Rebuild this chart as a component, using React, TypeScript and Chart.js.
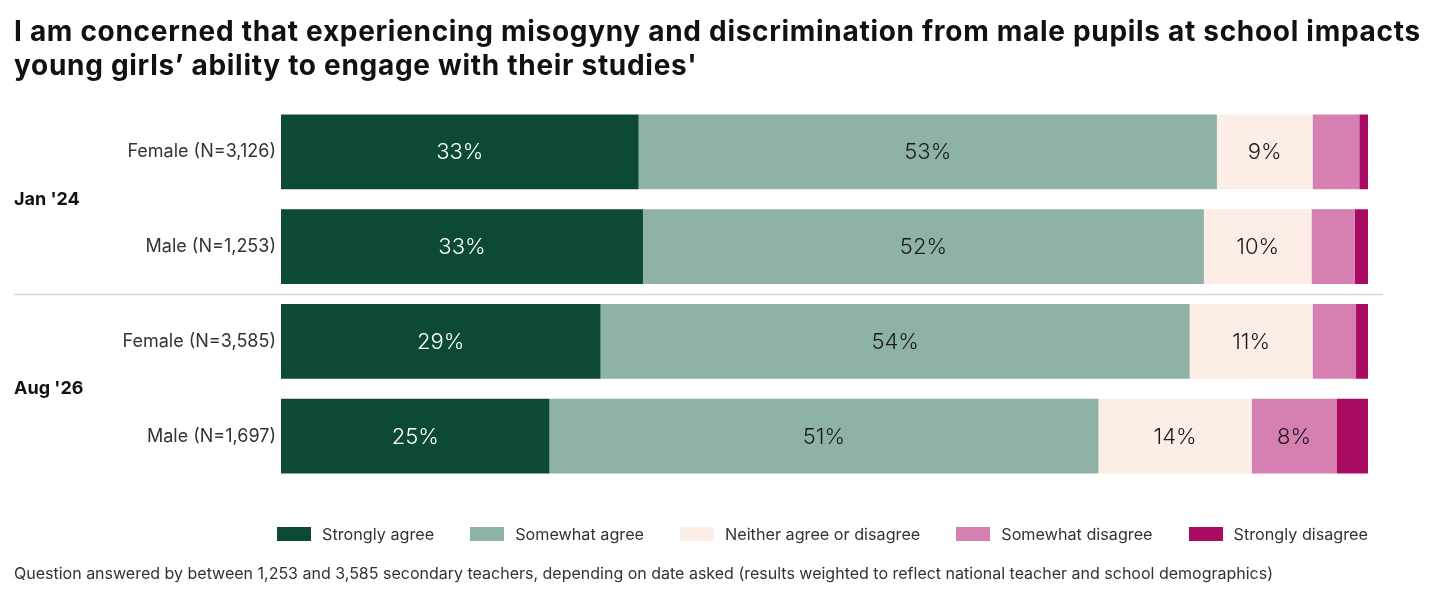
import { useEffect, useRef } from 'react';
import { Chart, registerables, type Plugin } from 'chart.js';

Chart.register(...registerables);

const categories = ['Female (N=3,126)', 'Male (N=1,253)', 'Female (N=3,585)', 'Male (N=1,697)'];
const groups = ["Jan '24", "Aug '26"];
const seriesNames = ['Strongly agree', 'Somewhat agree', 'Neither agree or disagree', 'Somewhat disagree', 'Strongly disagree'];
const stronglyAgree = [32.9, 33.3, 29.4, 24.7];
const somewhatAgree = [53.2, 51.6, 54.2, 50.5];
const neither = [8.8, 9.9, 11.3, 14.1];
const somewhatDisagree = [4.3, 4.0, 4.0, 7.8];
const stronglyDisagree = [0.8, 1.2, 1.1, 2.9];

const COLORS = ['#0c4a37', '#8fb2a6', '#fcede6', '#d580b0', '#a90a62'];
const FONT = 'Inter, "Noto Sans", sans-serif';

// segment labels, group labels and the divider between the two survey dates
const decorPlugin: Plugin<'bar'> = {
  id: 'decor',
  afterDatasetsDraw(chart) {
    const { ctx } = chart;
    const y = chart.scales.y;
    ctx.save();
    ctx.textAlign = 'center';
    ctx.textBaseline = 'middle';
    ctx.font = '300 22px ' + FONT;
    chart.data.datasets.forEach((ds, di) => {
      const meta = chart.getDatasetMeta(di);
      meta.data.forEach((bar, i) => {
        const v = ds.data[i] as number;
        if (v < 5) return;
        const { x, base } = bar.getProps(['x', 'base'], true) as { x: number; base: number };
        ctx.fillStyle = di === 0 ? '#ffffff' : '#1a1a1a';
        ctx.fillText(Math.round(v) + '%', (x + base) / 2, bar.y + 1);
      });
    });

    // divider
    const sy = Math.round(y.getPixelForValue(1.5)) + 0.5;
    ctx.strokeStyle = '#d6d6d6';
    ctx.lineWidth = 1.5;
    ctx.beginPath();
    ctx.moveTo(14, sy);
    ctx.lineTo(1383, sy);
    ctx.stroke();

    ctx.textAlign = 'left';
    ctx.fillStyle = '#111';
    ctx.font = '700 18px ' + FONT;
    groups.forEach((g, gi) => {
      ctx.fillText(g, 14, y.getPixelForValue(gi * 2 + 0.5));
    });
    ctx.restore();
  },
};

function BarChart() {
  const canvasRef = useRef<HTMLCanvasElement>(null);

  useEffect(() => {
    const canvas = canvasRef.current;
    if (!canvas) return;
    const values = [stronglyAgree, somewhatAgree, neither, somewhatDisagree, stronglyDisagree];
    const chart = new Chart(canvas, {
      type: 'bar',
      data: {
        labels: categories,
        datasets: values.map((d, i) => ({
          label: seriesNames[i],
          data: d,
          backgroundColor: COLORS[i],
          borderWidth: 0,
          barPercentage: 0.79,
          categoryPercentage: 1,
        })),
      },
      plugins: [decorPlugin],
      options: {
        indexAxis: 'y',
        responsive: false,
        animation: false,
        layout: { padding: { top: 104.5, bottom: 116.5, left: 0, right: 72 } },
        scales: {
          x: { stacked: true, min: 0, max: 100, display: false },
          y: {
            stacked: true,
            grid: { display: false, drawTicks: false },
            border: { display: false },
            afterFit: (s) => {
              s.width = 281;
            },
            ticks: { padding: 5, color: '#333', font: { family: FONT, size: 18 } },
          },
        },
        plugins: { legend: { display: false }, tooltip: { enabled: false } },
      },
    });
    return () => chart.destroy();
  }, []);

  return <canvas ref={canvasRef} width={1440} height={600} style={{ position: 'absolute', left: 0, top: 0, width: 1440, height: 600 }} />;
}

export default function App() {
  return (
    <div style={{ position: 'fixed', left: 0, top: 0, width: 1440, height: 600, background: '#fff', fontFamily: FONT, color: '#111', overflow: 'hidden' }}>
      <BarChart />
      <div style={{ position: 'absolute', left: 14, top: 14, fontSize: 28, fontWeight: 700, lineHeight: '34px', letterSpacing: 0.7, whiteSpace: 'nowrap' }}>
        I am concerned that experiencing misogyny and discrimination from male pupils at school impacts
        <br />
        young girls’ ability to engage with their studies'
      </div>
      <div style={{ position: 'absolute', right: 72, top: 524, display: 'flex', alignItems: 'center', fontSize: 16.2, color: '#333', whiteSpace: 'nowrap' }}>
        {seriesNames.map((n, i) => (
          <div key={n} style={{ display: 'flex', alignItems: 'center', marginRight: i < seriesNames.length - 1 ? 36 : 0 }}>
            <span style={{ width: 34, height: 14, background: COLORS[i], marginRight: 11, display: 'inline-block' }} />
            <span>{n}</span>
          </div>
        ))}
      </div>
      <div style={{ position: 'absolute', left: 14, top: 563, fontSize: 16, color: '#333', whiteSpace: 'nowrap' }}>
        Question answered by between 1,253 and 3,585 secondary teachers, depending on date asked (results weighted to reflect national teacher and school demographics)
      </div>
    </div>
  );
}
